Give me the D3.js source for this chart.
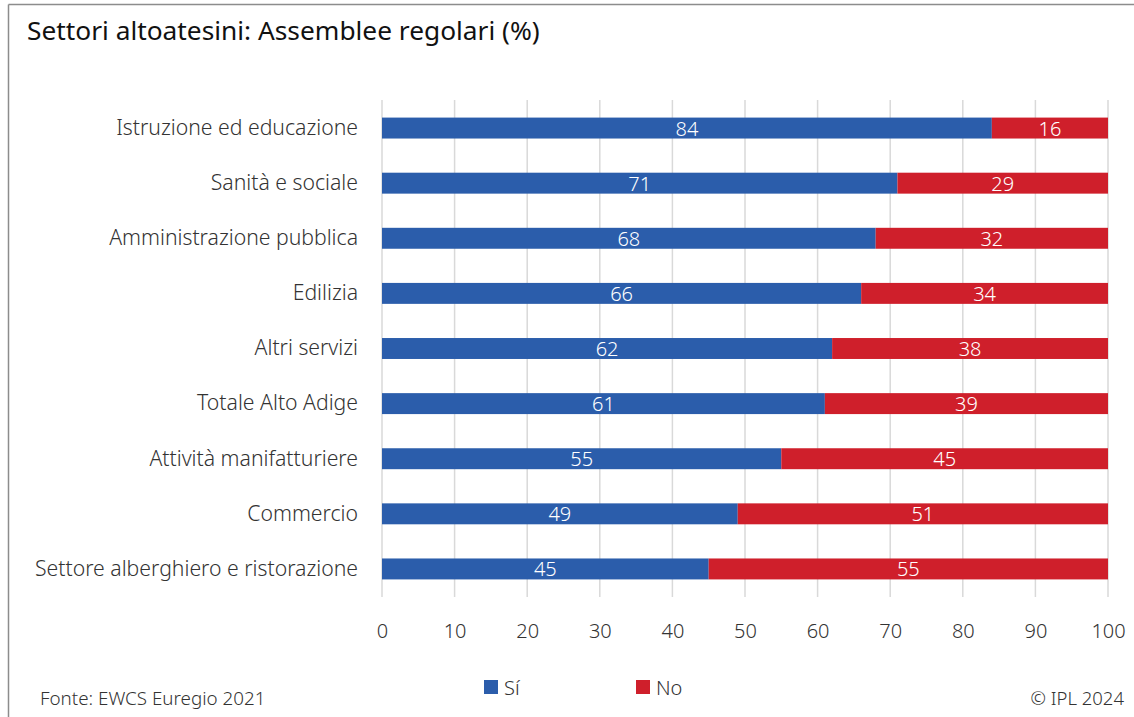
<!DOCTYPE html>
<html>
<head>
<meta charset="utf-8">
<script src="https://cdn.jsdelivr.net/npm/d3@7"></script>
<style>
  html, body { margin: 0; padding: 0; background: #fff; }
  svg { display: block; font-family: "Noto Sans", "Open Sans", sans-serif; font-weight: 300; }
</style>
</head>
<body>
<svg id="chart" width="1134" height="717"></svg>
<script>
const categories = [
  "Istruzione ed educazione",
  "Sanità e sociale",
  "Amministrazione pubblica",
  "Edilizia",
  "Altri servizi",
  "Totale Alto Adige",
  "Attività manifatturiere",
  "Commercio",
  "Settore alberghiero e ristorazione"
];
const siValues = [84, 71, 68, 66, 62, 61, 55, 49, 45];
const noValues = [16, 29, 32, 34, 38, 39, 45, 51, 55];
const seriesNames = ["Sí", "No"];
const seriesColors = ["#2B5DAB", "#CF1F2B"];
const tickValues = [0, 10, 20, 30, 40, 50, 60, 70, 80, 90, 100];

const svg = d3.select("#chart");
const W = 1134, H = 717;

// outer frame (top and left edges)
svg.append("line").attr("x1", 8.5).attr("x2", W).attr("y1", 4.5).attr("y2", 4.5)
  .attr("stroke", "#8c8c8c").attr("stroke-width", 1.5);
svg.append("line").attr("x1", 8.5).attr("x2", 8.5).attr("y1", 4.5).attr("y2", H)
  .attr("stroke", "#8c8c8c").attr("stroke-width", 1.5);

svg.append("text").attr("x", 27).attr("y", 40)
  .attr("font-size", 26.3).attr("font-weight", 400).attr("fill", "#111")
  .text("Settori altoatesini: Assemblee regolari (%)");

const x = d3.scaleLinear().domain([0, 100]).range([382, 1108]);
const y = d3.scaleBand().domain(categories).range([100.5, 596.5]).paddingInner(0.62).paddingOuter(0.31);

// vertical gridlines
svg.append("g").selectAll("line").data(tickValues).join("line")
  .attr("x1", d => x(d)).attr("x2", d => x(d))
  .attr("y1", 100).attr("y2", 597)
  .attr("stroke", "#d9d9d9").attr("stroke-width", 1.5);

const rows = categories.map((c, i) => ({ c, si: siValues[i], no: noValues[i] }));

const stacks = [
  rows.map(r => ({ c: r.c, x0: 0, x1: r.si, v: r.si })),
  rows.map(r => ({ c: r.c, x0: r.si, x1: r.si + r.no, v: r.no }))
];

stacks.forEach((s, k) => {
  const g = svg.append("g");
  g.selectAll("rect").data(s).join("rect")
    .attr("x", d => x(d.x0)).attr("width", d => x(d.x1) - x(d.x0))
    .attr("y", d => y(d.c)).attr("height", y.bandwidth())
    .attr("fill", seriesColors[k]);
  g.selectAll("text").data(s).join("text")
    .attr("x", d => (x(d.x0) + x(d.x1)) / 2)
    .attr("y", d => y(d.c) + y.bandwidth() / 2 + 7.5)
    .attr("text-anchor", "middle").attr("font-size", 20)
    .attr("fill", "#fff").text(d => d.v);
});

// category axis labels
const yAxis = d3.axisLeft(y).tickSize(0).tickPadding(24);
const gy = svg.append("g").attr("transform", `translate(${x(0)},0)`).call(yAxis);
gy.select(".domain").remove();
gy.selectAll("text").attr("font-size", 21.2).attr("fill", "#333")
  .attr("font-family", "\"Noto Sans\", sans-serif").attr("font-weight", 300);

// value axis labels
const xAxis = d3.axisBottom(x).tickValues(tickValues).tickSize(0).tickPadding(27);
const gx = svg.append("g").attr("transform", "translate(0,597)").call(xAxis);
gx.select(".domain").remove();
gx.selectAll("text").attr("font-size", 20).attr("fill", "#333")
  .attr("font-family", "\"Noto Sans\", sans-serif").attr("font-weight", 300);

// legend
const legendX = [484, 636];
seriesNames.forEach((n, k) => {
  svg.append("rect").attr("x", legendX[k]).attr("y", 680).attr("width", 14).attr("height", 14)
    .attr("fill", seriesColors[k]);
  svg.append("text").attr("x", legendX[k] + 20).attr("y", 694.5)
    .attr("font-size", 20).attr("fill", "#333").text(n);
});

svg.append("text").attr("x", 40).attr("y", 705)
  .attr("font-size", 18.8).attr("fill", "#333").text("Fonte: EWCS Euregio 2021");
svg.append("text").attr("x", 1124).attr("y", 705).attr("text-anchor", "end")
  .attr("font-size", 18.5).attr("fill", "#333").text("© IPL 2024");
</script>
</body>
</html>
